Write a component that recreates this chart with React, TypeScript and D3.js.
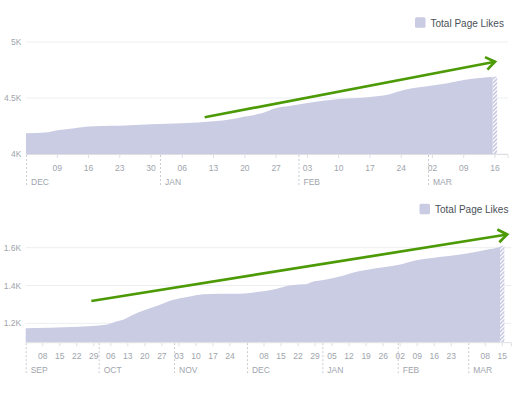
import React from 'react';
import * as d3 from 'd3';

// ---------- Top chart data (Dec 2015 – Mar 2016) ----------
const topDates = [
  '2015-12-02', '2015-12-07', '2015-12-09', '2015-12-12', '2015-12-16', '2015-12-19',
  '2015-12-23', '2015-12-30', '2016-01-06', '2016-01-13', '2016-01-17', '2016-01-20',
  '2016-01-24', '2016-01-27', '2016-01-30', '2016-02-03', '2016-02-10', '2016-02-17',
  '2016-02-21', '2016-02-25', '2016-03-02', '2016-03-05', '2016-03-09', '2016-03-12',
  '2016-03-16',
];
const topLikes = [
  4185, 4195, 4212, 4225, 4245, 4250,
  4252, 4265, 4275, 4292, 4310, 4335,
  4365, 4410, 4428, 4455, 4490, 4510,
  4530, 4575, 4612, 4630, 4660, 4676,
  4692,
];
const topYTicks = [4000, 4500, 5000];
const topYLabels = ['4K', '4.5K', '5K'];
const topArrow = { from: ['2016-01-11', 4328], to: ['2016-03-16', 4824] };

// ---------- Bottom chart data (Sep 2015 – Mar 2016) ----------
const botDates = [
  '2015-09-01', '2015-09-11', '2015-09-23', '2015-10-01', '2015-10-05', '2015-10-08',
  '2015-10-11', '2015-10-15', '2015-10-20', '2015-10-26', '2015-10-31', '2015-11-07',
  '2015-11-13', '2015-11-20', '2015-11-28', '2015-12-06', '2015-12-11', '2015-12-17',
  '2015-12-20', '2015-12-25', '2015-12-28', '2016-01-02', '2016-01-09', '2016-01-15',
  '2016-01-19', '2016-01-26', '2016-02-01', '2016-02-09', '2016-02-16', '2016-02-22',
  '2016-03-01', '2016-03-08', '2016-03-14', '2016-03-15',
];
const botLikes = [
  1174, 1177, 1182, 1189, 1195, 1208,
  1219, 1244, 1270, 1297, 1322, 1341,
  1354, 1357, 1357, 1367, 1376, 1396,
  1403, 1406, 1420, 1431, 1450, 1473,
  1482, 1496, 1508, 1535, 1547, 1556,
  1570, 1588, 1605, 1610,
];
const botYTicks = [1200, 1400, 1600];
const botYLabels = ['1.2K', '1.4K', '1.6K'];
const botArrow = { from: ['2015-09-28', 1318], to: ['2016-03-17', 1670] };

const legendLabel = 'Total Page Likes';

const AREA = '#c9cce2';
const GREEN = '#4c9a06';
const GRID = '#eceef1';
const AXIS = '#dddfe3';
const TICK_TEXT = '#a0a5ad';
const FONT = '"Liberation Sans", Arial, Helvetica, sans-serif';

const parse = d3.utcParse('%Y-%m-%d');

type ChartProps = {
  id: string;
  dates: string[];
  values: number[];
  yTicks: number[];
  yLabels: string[];
  yDomain: [number, number];
  yRange: [number, number];
  xRange: [number, number];
  axisEnd: number;
  legendX: number;
  legendY: number;
  arrow: { from: (string | number)[]; to: (string | number)[] };
  tickDay: (d: Date) => boolean;
};

function Chart(p: ChartProps) {
  const pts = p.dates.map((d, i) => ({ d: parse(d) as Date, v: p.values[i] }));
  const start = pts[0].d;
  const last = pts[pts.length - 1].d;
  const x = d3.scaleUtc().domain([start, last]).range(p.xRange);
  const y = d3.scaleLinear().domain(p.yDomain).range(p.yRange);
  const base = p.yRange[0];
  const dayW = x(d3.utcDay.offset(start, 1)) - x(start);
  const hw = Math.max(dayW, 4.6) / 2;

  const lastX = x(last);
  const area = d3
    .area<{ d: Date; v: number }>()
    .x((d) => x(d.d))
    .y0(base)
    .y1((d) => y(d.v))
    .curve(d3.curveMonotoneX);

  const solidPts = pts.slice();
  // solid part ends half a day before the last point
  const prev = pts[pts.length - 2];
  const lastV = pts[pts.length - 1].v;
  const cutV = lastV - (lastV - prev.v) * (hw / (lastX - x(prev.d)));
  solidPts[solidPts.length - 1] = { d: x.invert(lastX - hw), v: cutV };

  // weekly ticks
  const allDays = d3.utcDay.range(start, d3.utcDay.offset(last, 1));
  const ticks = allDays.filter(p.tickDay);
  // month boundaries
  const months = [start, ...d3.utcMonth.range(d3.utcDay.offset(start, 1), last)];
  const monthKey = new Set(months.map((m) => +m));
  const monthFmt = d3.utcFormat('%b');
  const dayFmt = d3.utcFormat('%d');

  const axisY = base;
  const [ax1, ay1] = [x(parse(p.arrow.from[0] as string) as Date), y(p.arrow.from[1] as number)];
  const [ax2, ay2] = [x(parse(p.arrow.to[0] as string) as Date), y(p.arrow.to[1] as number)];
  const ang = Math.atan2(ay2 - ay1, ax2 - ax1);
  const headLen = 11;
  const headAng = 0.62;
  const h1 = [ax2 - headLen * Math.cos(ang - headAng), ay2 - headLen * Math.sin(ang - headAng)];
  const h2 = [ax2 - headLen * Math.cos(ang + headAng), ay2 - headLen * Math.sin(ang + headAng)];

  return (
    <g>
      <defs>
        <pattern id={p.id + '-hatch'} width="4" height="4" patternUnits="userSpaceOnUse">
          <rect width="4" height="4" fill="#ffffff" />
          <path d="M-1,1 l2,-2 M0,4 l4,-4 M3,5 l2,-2" stroke={AREA} strokeWidth="1.6" />
        </pattern>
        <clipPath id={p.id + '-clip'}>
          <rect x={lastX - hw} y={0} width={hw * 2} height={base + 1} />
        </clipPath>
      </defs>
      {/* gridlines */}
      {p.yTicks.map((t) => (
        <line key={t} x1={p.xRange[0]} x2={p.axisEnd} y1={y(t)} y2={y(t)} stroke={GRID} strokeWidth={1} />
      ))}
      {/* area */}
      <path d={area(solidPts) || ''} fill={AREA} />
      {/* hatched last day */}
      <g clipPath={`url(#${p.id}-clip)`}>
        <path
          d={
            area([
              { d: x.invert(lastX - hw), v: cutV },
              { d: last, v: lastV },
              { d: x.invert(lastX + hw), v: lastV },
            ]) || ''
          }
          fill={`url(#${p.id}-hatch)`}
        />
      </g>
      {/* baseline axis */}
      <line x1={p.xRange[0]} x2={p.axisEnd} y1={axisY + 0.5} y2={axisY + 0.5} stroke={AXIS} />
      {ticks
        .filter((t) => !monthKey.has(+t))
        .map((t) => (
          <g key={+t}>
            <line x1={x(t)} x2={x(t)} y1={axisY + 1} y2={axisY + 4} stroke={AXIS} />
            <text
              x={x(t)}
              y={axisY + 16.5}
              textAnchor="middle"
              fontSize={8.5}
              fill={TICK_TEXT}
              fontFamily={FONT}
            >
              {dayFmt(t)}
            </text>
          </g>
        ))}
      <line x1={p.axisEnd} x2={p.axisEnd} y1={axisY + 1} y2={axisY + 4} stroke={AXIS} />
      {months.map((m) => (
        <g key={+m}>
          <line
            x1={x(m) + 0.5}
            x2={x(m) + 0.5}
            y1={axisY + 1}
            y2={axisY + 32}
            stroke="#c9ccd1"
            strokeDasharray="2,2"
          />
          <text x={x(m) + 5} y={axisY + 30.5} fontSize={8.5} fill={TICK_TEXT} fontFamily={FONT}>
            {monthFmt(m).toUpperCase()}
          </text>
        </g>
      ))}
      {/* y labels */}
      {p.yTicks.map((t, i) => (
        <text
          key={t}
          x={p.xRange[0] - 4.5}
          y={y(t) + 3}
          textAnchor="end"
          fontSize={8.5}
          fill={TICK_TEXT}
          fontFamily={FONT}
        >
          {p.yLabels[i]}
        </text>
      ))}
      {/* legend */}
      <rect x={p.legendX} y={p.legendY} width={10.5} height={10.5} rx={1.5} fill={AREA} />
      <text x={p.legendX + 15.5} y={p.legendY + 9.3} fontSize={10} fill="#4b4f56" fontFamily={FONT}>
        {legendLabel}
      </text>
      {/* green arrow */}
      <line x1={ax1} y1={ay1} x2={ax2} y2={ay2} stroke={GREEN} strokeWidth={2.7} />
      <polyline
        points={`${h1[0]},${h1[1]} ${ax2},${ay2} ${h2[0]},${h2[1]}`}
        fill="none"
        stroke={GREEN}
        strokeWidth={2.7}
        strokeLinecap="butt"
        strokeLinejoin="miter"
      />
    </g>
  );
}

export default function App() {
  return (
    <svg
      width={521}
      height={395}
      viewBox="0 0 521 395"
      style={{ position: 'absolute', left: 0, top: 0, background: '#fff' }}
    >
      <Chart
        id="top"
        dates={topDates}
        values={topLikes}
        yTicks={topYTicks}
        yLabels={topYLabels}
        yDomain={[4000, 5000]}
        yRange={[154, 42]}
        xRange={[26, 495]}
        axisEnd={508}
        legendX={415}
        legendY={17.3}
        arrow={topArrow}
        tickDay={(d) => d.getUTCDay() === 3}
      />
      <Chart
        id="bot"
        dates={botDates}
        values={botLikes}
        yTicks={botYTicks}
        yLabels={botYLabels}
        yDomain={[1100, 1600]}
        yRange={[342.2, 247.7]}
        xRange={[25.7, 502.3]}
        axisEnd={511.5}
        legendX={419.5}
        legendY={203.8}
        arrow={botArrow}
        tickDay={(d) => d.getUTCDay() === 2}
      />
    </svg>
  );
}
